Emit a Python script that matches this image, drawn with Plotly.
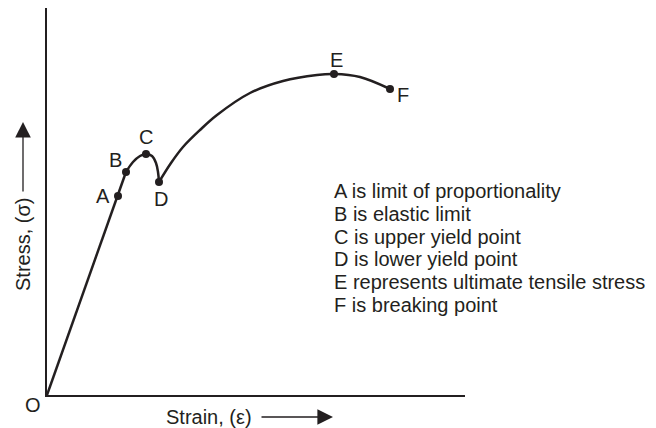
import plotly.graph_objects as go

# Stress-strain curve, arbitrary units
elastic_x = [0, 71, 79]
elastic_y = [0, 199, 223]

yield_x = [79, 86, 93, 99, 105, 109, 111, 112]
yield_y = [223, 233, 239, 241, 239, 232, 223, 213]

harden_x = [112, 124, 136, 153, 170, 203, 236, 270, 287, 313, 343]
harden_y = [213, 232, 248, 265, 280, 302, 314, 320, 321, 318, 306]

point_names = ["A", "B", "C", "D", "E", "F"]
point_x = [71, 79, 99, 112, 287, 343]
point_y = [199, 223, 241, 213, 321, 306]

notes = [
    "A is limit of proportionality",
    "B is elastic limit",
    "C is upper yield point",
    "D is lower yield point",
    "E represents ultimate tensile stress",
    "F is breaking point",
]

X_MAX, Y_MAX = 418, 387
ink = "#231f20"
font = dict(family="Liberation Sans, Arial, sans-serif", size=20, color=ink)


def px(x):
    return x / X_MAX


def py(y):
    return y / Y_MAX


def label(x, y, text, **kw):
    opts = dict(xref="paper", yref="paper", showarrow=False, font=font,
                xanchor="center", yanchor="middle")
    opts.update(kw)
    fig.add_annotation(x=px(x), y=py(y), text=text, **opts)


fig = go.Figure()
fig.add_trace(go.Scatter(x=elastic_x, y=elastic_y, mode="lines",
                         line=dict(color=ink, width=2.5)))
fig.add_trace(go.Scatter(x=yield_x, y=yield_y, mode="lines",
                         line=dict(color=ink, width=2.5, shape="spline")))
fig.add_trace(go.Scatter(x=harden_x, y=harden_y, mode="lines",
                         line=dict(color=ink, width=2.5, shape="spline")))
fig.add_trace(go.Scatter(x=point_x, y=point_y, mode="markers",
                         marker=dict(color=ink, size=8)))

# point letters, offset from the dots
offsets = {"A": (-15, 0), "B": (-11, 12), "C": (0, 17), "D": (2, -17),
           "E": (2, 14), "F": (13, -6)}
for n, x, y in zip(point_names, point_x, point_y):
    dx, dy = offsets[n]
    label(x + dx, y + dy, n)

label(-14, -10, "O")

for i, line in enumerate(notes):
    label(285, 204 - i * 22.8, line, xanchor="left")

# axis captions with arrows
label(162, -22, "Strain, (ε)")
fig.add_annotation(x=px(286), y=py(-22), xref="paper", yref="paper",
                   ax=-73, ay=0, text="", showarrow=True, standoff=0,
                   arrowhead=2, arrowsize=2.4, arrowwidth=1.3, arrowcolor=ink)
label(-24, 150, "Stress, (σ)", textangle=-90)
fig.add_annotation(x=px(-24), y=py(273), xref="paper", yref="paper",
                   ax=0, ay=71, text="", showarrow=True, standoff=0,
                   arrowhead=2, arrowsize=2.4, arrowwidth=1.3, arrowcolor=ink)

axis = dict(showgrid=False, zeroline=False, showticklabels=False, ticks="",
            showline=True, linecolor=ink, linewidth=2)
fig.update_xaxes(range=[0, X_MAX], **axis)
fig.update_yaxes(range=[0, Y_MAX], **axis)

fig.update_layout(width=656, height=428, showlegend=False,
                  margin=dict(l=39, r=199, t=0, b=41),
                  plot_bgcolor="white", paper_bgcolor="white")

fig.write_html("out.html")
